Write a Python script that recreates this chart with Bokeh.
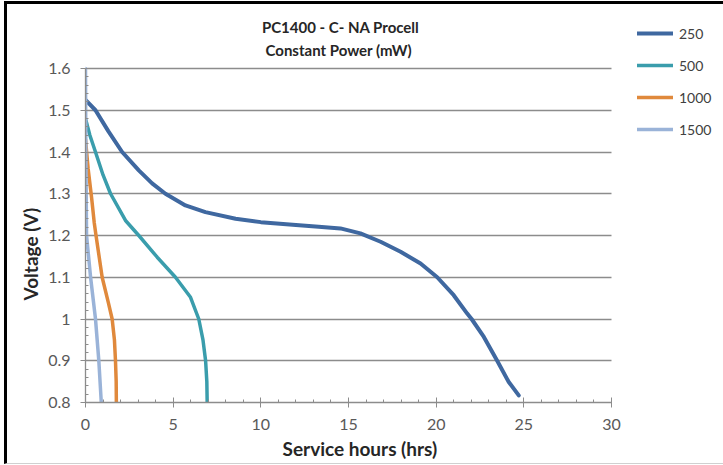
from bokeh.plotting import figure
from bokeh.models import (SingleIntervalTicker, Legend, LegendItem, Label, Range1d, Title)
from bokeh.embed import file_html
from bokeh.resources import INLINE

# ---- data ----
series_names = ["250", "500", "1000", "1500"]

x_250 = [0.0, 0.57, 1.3, 2.09, 3.04, 3.8, 4.56, 5.7, 6.84, 8.56, 10.0, 12.0, 13.3, 14.54, 15.68, 16.83, 17.97, 19.11, 20.06, 21.0, 21.77, 22.02, 22.72, 23.48, 24.14, 24.71]
y_250 = [1.525, 1.50, 1.45, 1.40, 1.356, 1.325, 1.30, 1.272, 1.256, 1.24, 1.232, 1.225, 1.221, 1.217, 1.205, 1.185, 1.161, 1.133, 1.10, 1.057, 1.013, 1.00, 0.957, 0.90, 0.849, 0.817]

x_500 = [0.0, 0.25, 0.57, 1.0, 1.43, 2.28, 3.04, 4.09, 5.13, 5.99, 6.46, 6.7, 6.85, 6.92, 6.94]
y_500 = [1.48, 1.44, 1.40, 1.345, 1.30, 1.236, 1.20, 1.148, 1.10, 1.052, 1.00, 0.95, 0.90, 0.85, 0.80]

x_1000 = [0.0, 0.15, 0.35, 0.5, 0.6, 0.95, 1.3, 1.52, 1.65, 1.71, 1.75, 1.76]
y_1000 = [1.43, 1.36, 1.29, 1.23, 1.20, 1.10, 1.04, 1.00, 0.95, 0.90, 0.85, 0.80]

x_1500 = [0.0, 0.02, 0.06, 0.29, 0.57, 0.76, 0.9]
y_1500 = [1.60, 1.40, 1.20, 1.10, 1.00, 0.90, 0.80]

x_axis_span = (0, 30)
y_axis_span = (0.8, 1.6)

colors = ["#3f68a0", "#3a9dac", "#e0893c", "#9ab3d8"]
widths = [4, 3.5, 3.5, 3.5]

title_lines = ["PC1400 - C- NA Procell", "Constant Power  (mW)"]
x_label = "Service hours (hrs)"
y_label = "Voltage (V)"

FONT = "Lato"

# frame is enlarged to host title + legend; axes/grid bounded to the real data span
FW, FH = 635, 392
x_end = x_axis_span[1] * FW / 526.0
y_end = y_axis_span[0] + (y_axis_span[1] - y_axis_span[0]) * FH / 334.0

p = figure(width=716, height=459, output_backend="svg", toolbar_location=None,
           x_range=Range1d(0, x_end), y_range=Range1d(y_axis_span[0], y_end),
           min_border_left=78, min_border_top=6, min_border_right=3, min_border_bottom=61,
           frame_width=FW, frame_height=FH)
p.outline_line_color = None
p.background_fill_color = "white"
p.border_fill_color = "white"

p.styles = {"border-left": "3px solid #000", "border-top": "3px solid #000",
            "border-bottom": "1px solid #d0d0d0", "margin-left": "4px", "margin-top": "1px"}

# grids
p.xgrid.grid_line_color = None
p.ygrid.grid_line_color = "#8c8c8c"
p.ygrid.grid_line_width = 1.3
p.ygrid.cross_bounds = x_axis_span

# axes
p.xaxis.ticker = SingleIntervalTicker(interval=5, num_minor_ticks=5)
p.yaxis.ticker = SingleIntervalTicker(interval=0.1, num_minor_ticks=5)
p.xaxis.bounds = x_axis_span
p.yaxis.bounds = y_axis_span
for ax in (p.xaxis[0], p.yaxis[0]):
    ax.axis_line_color = "#8c8c8c"
    ax.axis_line_width = 1.3
    ax.major_tick_line_color = "#8c8c8c"
    ax.minor_tick_line_color = "#8c8c8c"
    ax.major_label_text_font = FONT
    ax.major_label_text_font_size = "16px"
    ax.major_label_text_color = "#595959"
p.xaxis.major_tick_in = 5
p.xaxis.major_tick_out = 5
p.xaxis.minor_tick_in = 3
p.xaxis.minor_tick_out = 0
p.yaxis.major_tick_in = 0
p.yaxis.major_tick_out = 5
p.yaxis.minor_tick_in = 3
p.yaxis.minor_tick_out = 0
p.xaxis.major_label_standoff = 11
p.yaxis.major_label_standoff = 10
p.yaxis.formatter.use_scientific = False

# axis titles as side-panel titles so they can be offset like the reference
p.add_layout(Title(text=x_label, align="left", offset=197, text_font=FONT,
                   text_font_size="19px", text_font_style="bold",
                   text_color="#262626", standoff=4), "below")
p.add_layout(Title(text=y_label, align="left", offset=102, text_font=FONT,
                   text_font_size="19px", text_font_style="bold",
                   text_color="#262626", standoff=8), "left")

# lines
xs = [x_250, x_500, x_1000, x_1500]
ys = [y_250, y_500, y_1000, y_1500]
renderers = []
for x, y, c, w in zip(xs, ys, colors, widths):
    r = p.line(x, y, line_color=c, line_width=w, line_join="round", line_cap="round")
    renderers.append(r)

legend = Legend(items=[LegendItem(label=n, renderers=[r]) for n, r in zip(series_names, renderers)],
                location=(552, 263), orientation="vertical",
                glyph_width=36, glyph_height=20, label_height=20, spacing=12,
                label_standoff=6, padding=0, margin=0,
                border_line_color=None, background_fill_alpha=0,
                label_text_font=FONT, label_text_font_size="14px",
                label_text_color="#404040")
p.add_layout(legend)

# chart title
for t, yy in zip(title_lines, (1.6989, 1.6438)):
    p.add_layout(Label(x=14.55, y=yy, text=t, text_align="center",
                       text_baseline="middle", text_font=FONT, text_font_size="15px",
                       text_font_style="bold", text_color="#262626"))

open("out.html", "w").write(file_html(p, INLINE))
